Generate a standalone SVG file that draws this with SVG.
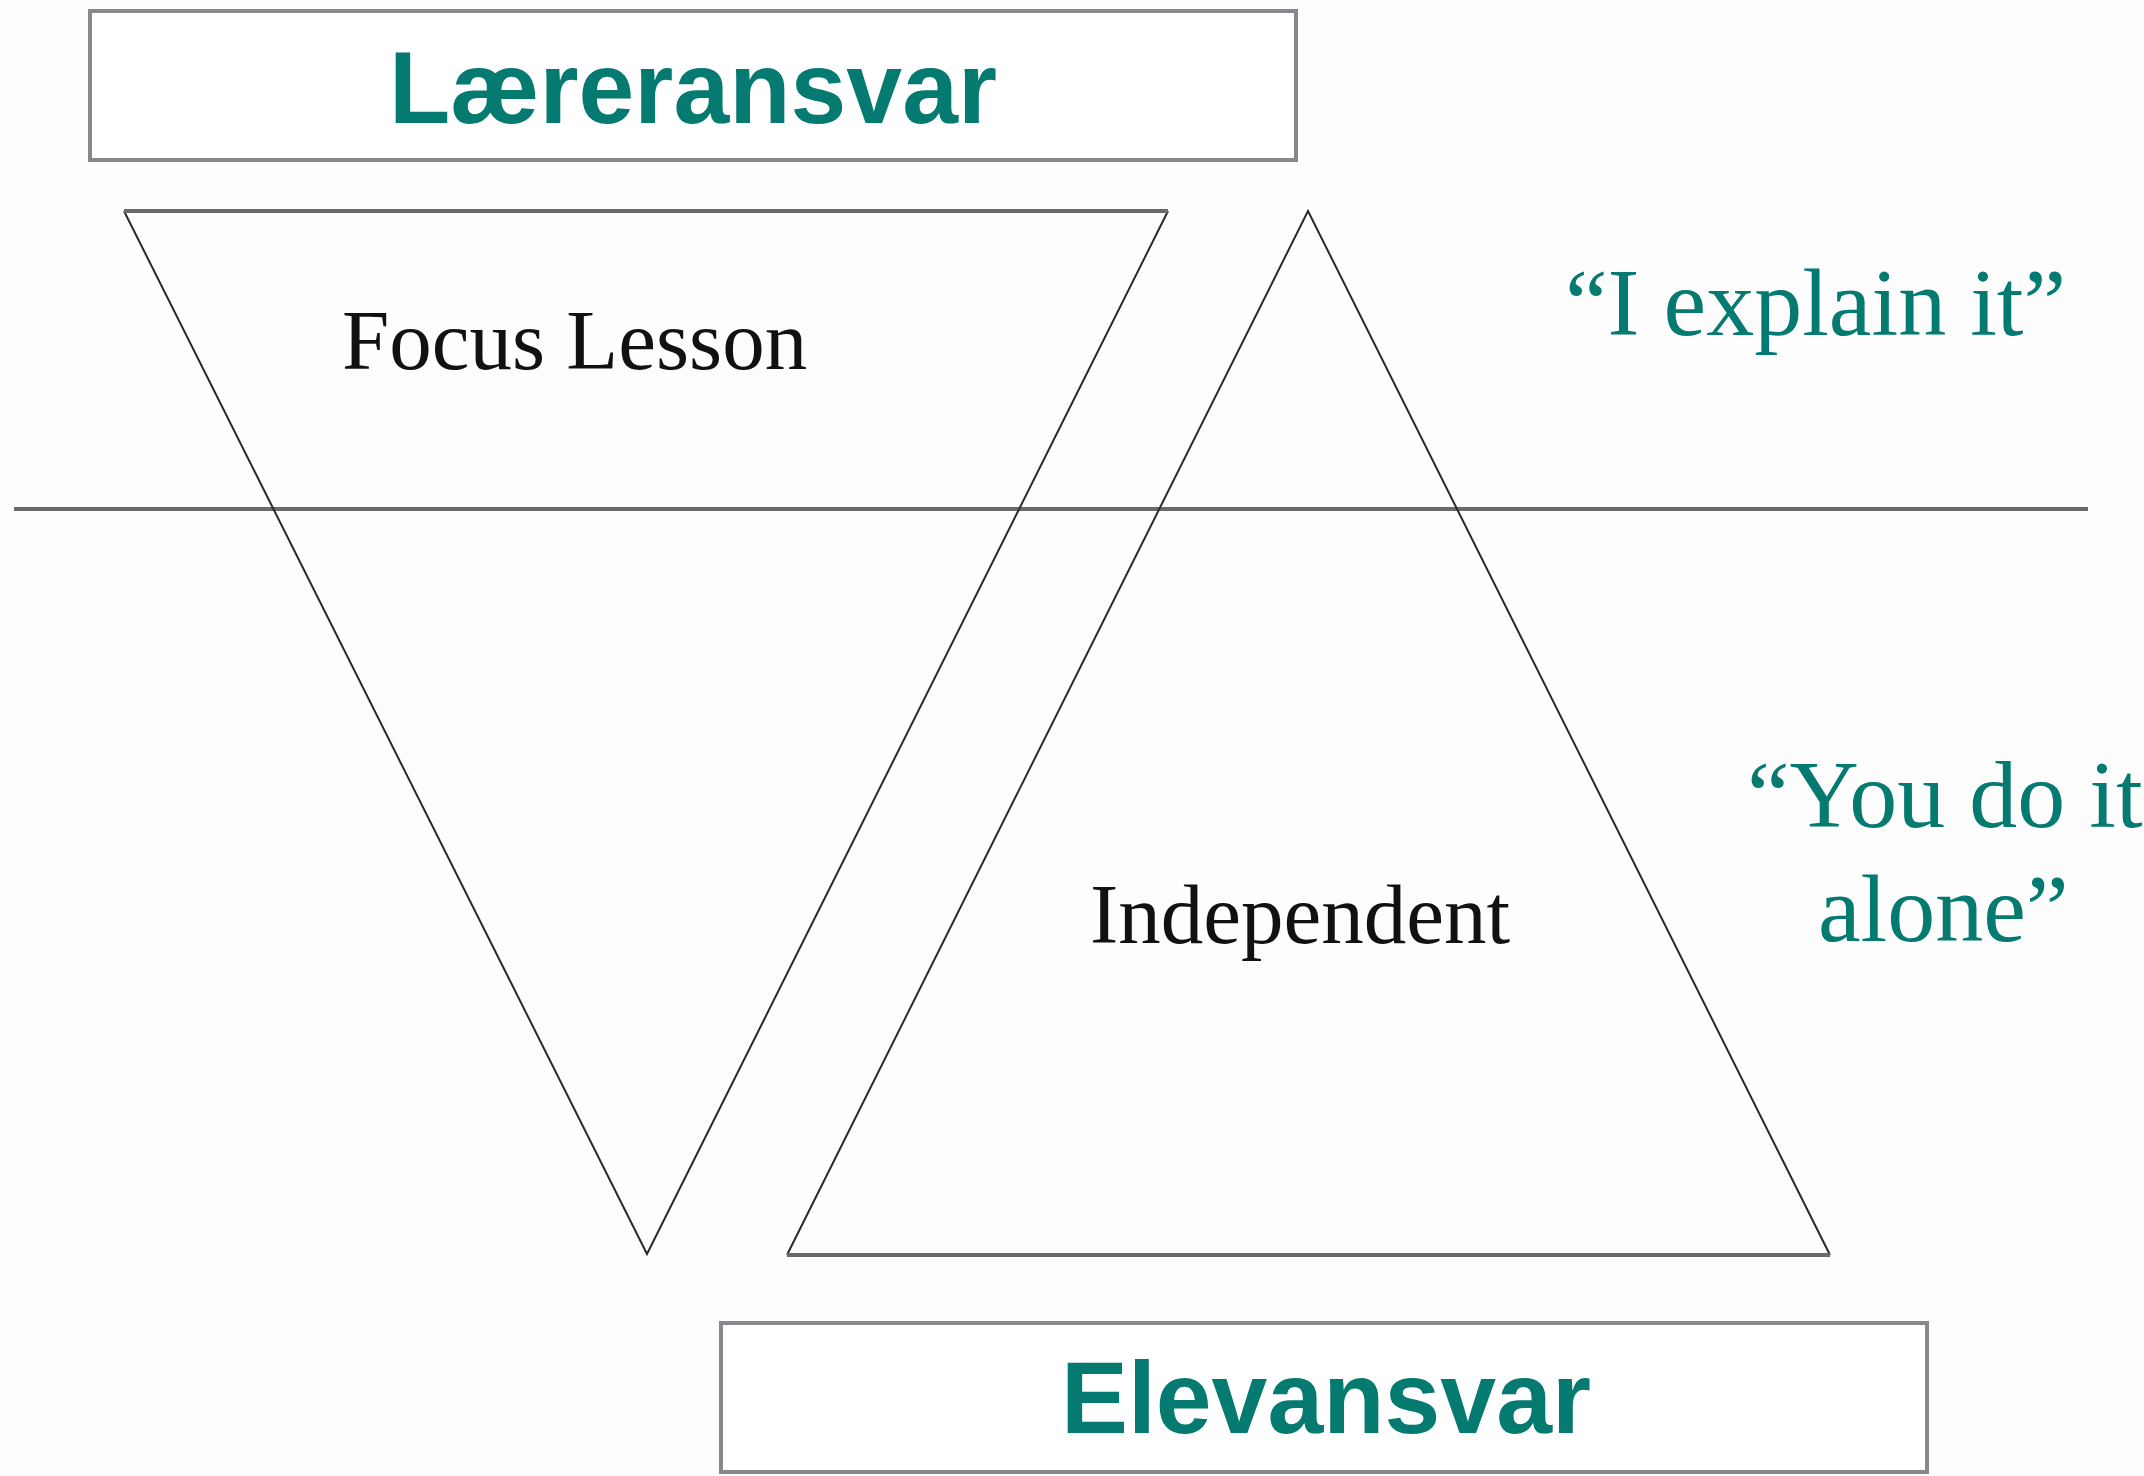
<svg xmlns="http://www.w3.org/2000/svg" width="2144" height="1476" viewBox="0 0 2144 1476">
<style>
.box{fill:#ffffff;stroke:#86888b;stroke-width:4}
.head{font-family:"Liberation Sans",Arial,sans-serif;font-weight:bold;font-size:102px;fill:#047a70;text-anchor:middle}
.serif{font-family:"Liberation Serif","Times New Roman",serif;font-size:85px;fill:#111111}
.quote{font-family:"Liberation Serif","Times New Roman",serif;font-size:96px;fill:#047a70}
.side{fill:none;stroke:#2a2a2a;stroke-width:2;stroke-linejoin:miter}
.base{fill:none;stroke:#6a6a6a;stroke-width:4}
</style>
<rect width="2144" height="1476" fill="#fdfdfd"/>
<g id="connectors">
<line class="base" x1="14" y1="509" x2="2088" y2="509"/>
</g>
<g id="teacher-box">
<rect class="box" x="90" y="11" width="1206" height="149"/>
<text class="head" x="693" y="123" textLength="608" lengthAdjust="spacingAndGlyphs">Læreransvar</text>
</g>
<g id="focus-lesson">
<polyline class="side" points="124,211 647,1254 1168,211"/>
<line class="base" x1="124" y1="211" x2="1168" y2="211"/>
<text class="serif" x="342" y="369">Focus Lesson</text>
</g>
<g id="independent">
<polyline class="side" points="787,1255 1308,211 1830,1255"/>
<line class="base" x1="787" y1="1255" x2="1830" y2="1255"/>
<text class="serif" x="1090" y="943">Independent</text>
</g>
<g id="quote-explain">
<text class="quote" x="1565" y="335">“I explain it”</text>
</g>
<g id="quote-alone">
<text class="quote" x="1747" y="827">“You do it</text>
<text class="quote" x="1818" y="941">alone”</text>
</g>
<g id="student-box">
<rect class="box" x="721" y="1323" width="1206" height="149"/>
<text class="head" x="1326" y="1433" textLength="530" lengthAdjust="spacingAndGlyphs">Elevansvar</text>
</g>
</svg>
